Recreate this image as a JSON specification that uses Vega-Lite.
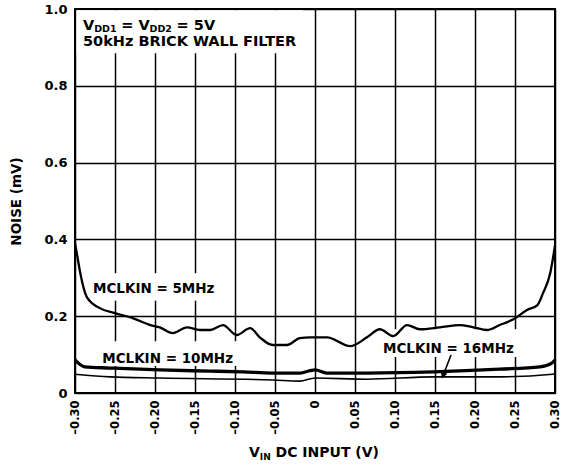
{
  "$schema": "https://vega.github.io/schema/vega-lite/v6.json",
  "width": 480,
  "height": 384,
  "autosize": {"type": "none"},
  "padding": {"left": 75, "top": 9, "right": 9, "bottom": 76},
  "background": "white",
  "config": {
    "view": {"stroke": "black", "strokeWidth": 2},
    "font": "DejaVu Sans",
    "text": {"font": "DejaVu Sans", "fontWeight": "bold", "color": "black"}
  },
  "datasets": {
    "curves": [
      {"v": -0.300, "noise": 0.390, "series": "5MHz"},
      {"v": -0.297, "noise": 0.355, "series": "5MHz"},
      {"v": -0.294, "noise": 0.319, "series": "5MHz"},
      {"v": -0.285, "noise": 0.249, "series": "5MHz"},
      {"v": -0.269, "noise": 0.221, "series": "5MHz"},
      {"v": -0.250, "noise": 0.208, "series": "5MHz"},
      {"v": -0.228, "noise": 0.195, "series": "5MHz"},
      {"v": -0.206, "noise": 0.177, "series": "5MHz"},
      {"v": -0.194, "noise": 0.171, "series": "5MHz"},
      {"v": -0.178, "noise": 0.156, "series": "5MHz"},
      {"v": -0.160, "noise": 0.171, "series": "5MHz"},
      {"v": -0.144, "noise": 0.164, "series": "5MHz"},
      {"v": -0.131, "noise": 0.164, "series": "5MHz"},
      {"v": -0.115, "noise": 0.177, "series": "5MHz"},
      {"v": -0.098, "noise": 0.151, "series": "5MHz"},
      {"v": -0.081, "noise": 0.169, "series": "5MHz"},
      {"v": -0.069, "noise": 0.145, "series": "5MHz"},
      {"v": -0.053, "noise": 0.125, "series": "5MHz"},
      {"v": -0.035, "noise": 0.125, "series": "5MHz"},
      {"v": -0.019, "noise": 0.143, "series": "5MHz"},
      {"v": -0.006, "noise": 0.145, "series": "5MHz"},
      {"v": 0.006, "noise": 0.145, "series": "5MHz"},
      {"v": 0.015, "noise": 0.145, "series": "5MHz"},
      {"v": 0.044, "noise": 0.122, "series": "5MHz"},
      {"v": 0.065, "noise": 0.145, "series": "5MHz"},
      {"v": 0.081, "noise": 0.166, "series": "5MHz"},
      {"v": 0.098, "noise": 0.148, "series": "5MHz"},
      {"v": 0.115, "noise": 0.177, "series": "5MHz"},
      {"v": 0.131, "noise": 0.166, "series": "5MHz"},
      {"v": 0.156, "noise": 0.171, "series": "5MHz"},
      {"v": 0.181, "noise": 0.177, "series": "5MHz"},
      {"v": 0.198, "noise": 0.171, "series": "5MHz"},
      {"v": 0.215, "noise": 0.164, "series": "5MHz"},
      {"v": 0.231, "noise": 0.177, "series": "5MHz"},
      {"v": 0.248, "noise": 0.192, "series": "5MHz"},
      {"v": 0.265, "noise": 0.216, "series": "5MHz"},
      {"v": 0.278, "noise": 0.229, "series": "5MHz"},
      {"v": 0.285, "noise": 0.260, "series": "5MHz"},
      {"v": 0.294, "noise": 0.312, "series": "5MHz"},
      {"v": 0.300, "noise": 0.384, "series": "5MHz"},
      {"v": -0.300, "noise": 0.086, "series": "10MHz"},
      {"v": -0.288, "noise": 0.068, "series": "10MHz"},
      {"v": -0.256, "noise": 0.065, "series": "10MHz"},
      {"v": -0.194, "noise": 0.060, "series": "10MHz"},
      {"v": -0.131, "noise": 0.057, "series": "10MHz"},
      {"v": -0.090, "noise": 0.055, "series": "10MHz"},
      {"v": -0.053, "noise": 0.052, "series": "10MHz"},
      {"v": -0.019, "noise": 0.052, "series": "10MHz"},
      {"v": -0.006, "noise": 0.058, "series": "10MHz"},
      {"v": 0.000, "noise": 0.060, "series": "10MHz"},
      {"v": 0.015, "noise": 0.052, "series": "10MHz"},
      {"v": 0.065, "noise": 0.052, "series": "10MHz"},
      {"v": 0.148, "noise": 0.055, "series": "10MHz"},
      {"v": 0.231, "noise": 0.062, "series": "10MHz"},
      {"v": 0.281, "noise": 0.068, "series": "10MHz"},
      {"v": 0.296, "noise": 0.078, "series": "10MHz"},
      {"v": 0.300, "noise": 0.086, "series": "10MHz"},
      {"v": -0.300, "noise": 0.049, "series": "16MHz"},
      {"v": -0.256, "noise": 0.042, "series": "16MHz"},
      {"v": -0.194, "noise": 0.039, "series": "16MHz"},
      {"v": -0.053, "noise": 0.034, "series": "16MHz"},
      {"v": -0.019, "noise": 0.031, "series": "16MHz"},
      {"v": 0.000, "noise": 0.039, "series": "16MHz"},
      {"v": 0.065, "noise": 0.036, "series": "16MHz"},
      {"v": 0.148, "noise": 0.042, "series": "16MHz"},
      {"v": 0.231, "noise": 0.042, "series": "16MHz"},
      {"v": 0.297, "noise": 0.049, "series": "16MHz"},
      {"v": 0.300, "noise": 0.050, "series": "16MHz"}
    ]
  },
  "encoding": {
    "x": {
      "field": "v", "type": "quantitative",
      "scale": {"domain": [-0.3, 0.3], "nice": false, "zero": false},
      "axis": {
        "title": null,
        "values": [-0.3, -0.25, -0.2, -0.15, -0.1, -0.05, 0, 0.05, 0.1, 0.15, 0.2, 0.25, 0.3],
        "labelExpr": "datum.value == 0 ? '0' : (datum.value < 0 ? '–' : '') + format(abs(datum.value), '.2f')",
        "labelAngle": 270, "labelAlign": "right", "labelBaseline": "middle",
        "labelPadding": 7, "labelFont": "DejaVu Sans", "labelFontWeight": "bold",
        "labelFontSize": 11.5, "labelColor": "black", "labelOverlap": false, "labelFlush": false,
        "grid": true, "gridColor": "black", "gridWidth": 1.5, "gridOpacity": 1,
        "domain": false, "ticks": false
      }
    },
    "y": {
      "field": "noise", "type": "quantitative",
      "scale": {"domain": [0, 1], "nice": false},
      "axis": {
        "title": "NOISE (mV)",
        "titleFont": "DejaVu Sans", "titleFontWeight": "bold", "titleFontSize": 13.5,
        "titleColor": "black", "titlePadding": 20,
        "values": [0, 0.2, 0.4, 0.6, 0.8, 1.0],
        "labelExpr": "datum.value == 0 ? '0' : format(datum.value, '.1f')",
        "labelPadding": 8, "labelFont": "DejaVu Sans", "labelFontWeight": "bold",
        "labelFontSize": 13, "labelColor": "black", "labelFlush": false,
        "grid": true, "gridColor": "black", "gridWidth": 1.5, "gridOpacity": 1,
        "domain": false, "ticks": false
      }
    }
  },
  "layer": [
    {
      "data": {"values": [
        {"x1": -0.298, "x2": -0.015, "y1": 0.885, "y2": 0.997},
        {"x1": -0.284, "x2": -0.110, "y1": 0.240, "y2": 0.312},
        {"x1": -0.2725, "x2": -0.095, "y1": 0.070, "y2": 0.135},
        {"x1": 0.079, "x2": 0.2525, "y1": 0.094, "y2": 0.166}
      ]},
      "mark": {"type": "rect", "color": "white"},
      "encoding": {
        "x": {"field": "x1", "type": "quantitative"},
        "x2": {"field": "x2"},
        "y": {"field": "y1", "type": "quantitative"},
        "y2": {"field": "y2"}
      }
    },
    {
      "data": {"name": "curves"},
      "transform": [{"filter": "datum.series == '5MHz'"}],
      "mark": {"type": "line", "color": "black", "strokeWidth": 2.3, "interpolate": "monotone"}
    },
    {
      "data": {"name": "curves"},
      "transform": [{"filter": "datum.series == '10MHz'"}],
      "mark": {"type": "line", "color": "black", "strokeWidth": 3.3, "interpolate": "monotone"}
    },
    {
      "data": {"name": "curves"},
      "transform": [{"filter": "datum.series == '16MHz'"}],
      "mark": {"type": "line", "color": "black", "strokeWidth": 1.6, "interpolate": "monotone"}
    },
    {
      "data": {"values": [{"x1": 0.17, "y1": 0.099, "x2": 0.161, "y2": 0.05}]},
      "mark": {"type": "rule", "color": "black", "strokeWidth": 1.6},
      "encoding": {
        "x": {"field": "x1", "type": "quantitative"},
        "y": {"field": "y1", "type": "quantitative"},
        "x2": {"field": "x2"},
        "y2": {"field": "y2"}
      }
    },
    {
      "data": {"values": [{"x": 0.1605, "y": 0.048}]},
      "mark": {"type": "point", "shape": "triangle", "filled": true, "color": "black", "size": 50, "angle": 200, "opacity": 1},
      "encoding": {
        "x": {"field": "x", "type": "quantitative"},
        "y": {"field": "y", "type": "quantitative"}
      }
    },
    {
      "data": {"values": [
        {"x": -0.2775, "y": 0.260, "t": "MCLKIN = 5MHz"},
        {"x": -0.266, "y": 0.078, "t": "MCLKIN = 10MHz"},
        {"x": 0.085, "y": 0.104, "t": "MCLKIN = 16MHz"}
      ]},
      "mark": {"type": "text", "align": "left", "baseline": "alphabetic", "fontSize": 13.5},
      "encoding": {
        "x": {"field": "x", "type": "quantitative"},
        "y": {"field": "y", "type": "quantitative"},
        "text": {"field": "t"}
      }
    },
    {
      "data": {"values": [{"x": -0.29, "y": 0.903, "t": "50kHz BRICK WALL FILTER"}]},
      "mark": {"type": "text", "align": "left", "baseline": "alphabetic", "fontSize": 14.5},
      "encoding": {
        "x": {"field": "x", "type": "quantitative"},
        "y": {"field": "y", "type": "quantitative"},
        "text": {"field": "t"}
      }
    },
    {
      "data": {"values": [{"x": -0.29, "y": 0.945, "t": "V"}]},
      "mark": {"type": "text", "align": "left", "baseline": "alphabetic", "fontSize": 14.5},
      "encoding": {
        "x": {"field": "x", "type": "quantitative"},
        "y": {"field": "y", "type": "quantitative"},
        "text": {"field": "t"}
      }
    },
    {
      "data": {"values": [{"x": -0.29, "y": 0.945, "t": "DD1"}]},
      "mark": {"type": "text", "align": "left", "baseline": "alphabetic", "fontSize": 9.5, "dx": 11.2, "dy": 1.5},
      "encoding": {
        "x": {"field": "x", "type": "quantitative"},
        "y": {"field": "y", "type": "quantitative"},
        "text": {"field": "t"}
      }
    },
    {
      "data": {"values": [{"x": -0.29, "y": 0.945, "t": "= V"}]},
      "mark": {"type": "text", "align": "left", "baseline": "alphabetic", "fontSize": 14.5, "dx": 38.2},
      "encoding": {
        "x": {"field": "x", "type": "quantitative"},
        "y": {"field": "y", "type": "quantitative"},
        "text": {"field": "t"}
      }
    },
    {
      "data": {"values": [{"x": -0.29, "y": 0.945, "t": "DD2"}]},
      "mark": {"type": "text", "align": "left", "baseline": "alphabetic", "fontSize": 9.5, "dx": 66.6, "dy": 1.5},
      "encoding": {
        "x": {"field": "x", "type": "quantitative"},
        "y": {"field": "y", "type": "quantitative"},
        "text": {"field": "t"}
      }
    },
    {
      "data": {"values": [{"x": -0.29, "y": 0.945, "t": "= 5V"}]},
      "mark": {"type": "text", "align": "left", "baseline": "alphabetic", "fontSize": 14.5, "dx": 93.6},
      "encoding": {
        "x": {"field": "x", "type": "quantitative"},
        "y": {"field": "y", "type": "quantitative"},
        "text": {"field": "t"}
      }
    },
    {
      "data": {"values": [{"x": 0, "y": -0.1667, "t": "V"}]},
      "mark": {"type": "text", "align": "left", "baseline": "alphabetic", "fontSize": 14, "dx": -66},
      "encoding": {
        "x": {"field": "x", "type": "quantitative"},
        "y": {"field": "y", "type": "quantitative"},
        "text": {"field": "t"}
      }
    },
    {
      "data": {"values": [{"x": 0, "y": -0.1667, "t": "IN"}]},
      "mark": {"type": "text", "align": "left", "baseline": "alphabetic", "fontSize": 9, "dx": -55.2, "dy": 3},
      "encoding": {
        "x": {"field": "x", "type": "quantitative"},
        "y": {"field": "y", "type": "quantitative"},
        "text": {"field": "t"}
      }
    },
    {
      "data": {"values": [{"x": 0, "y": -0.1667, "t": "DC INPUT (V)"}]},
      "mark": {"type": "text", "align": "left", "baseline": "alphabetic", "fontSize": 14, "dx": -39.4},
      "encoding": {
        "x": {"field": "x", "type": "quantitative"},
        "y": {"field": "y", "type": "quantitative"},
        "text": {"field": "t"}
      }
    }
  ]
}
